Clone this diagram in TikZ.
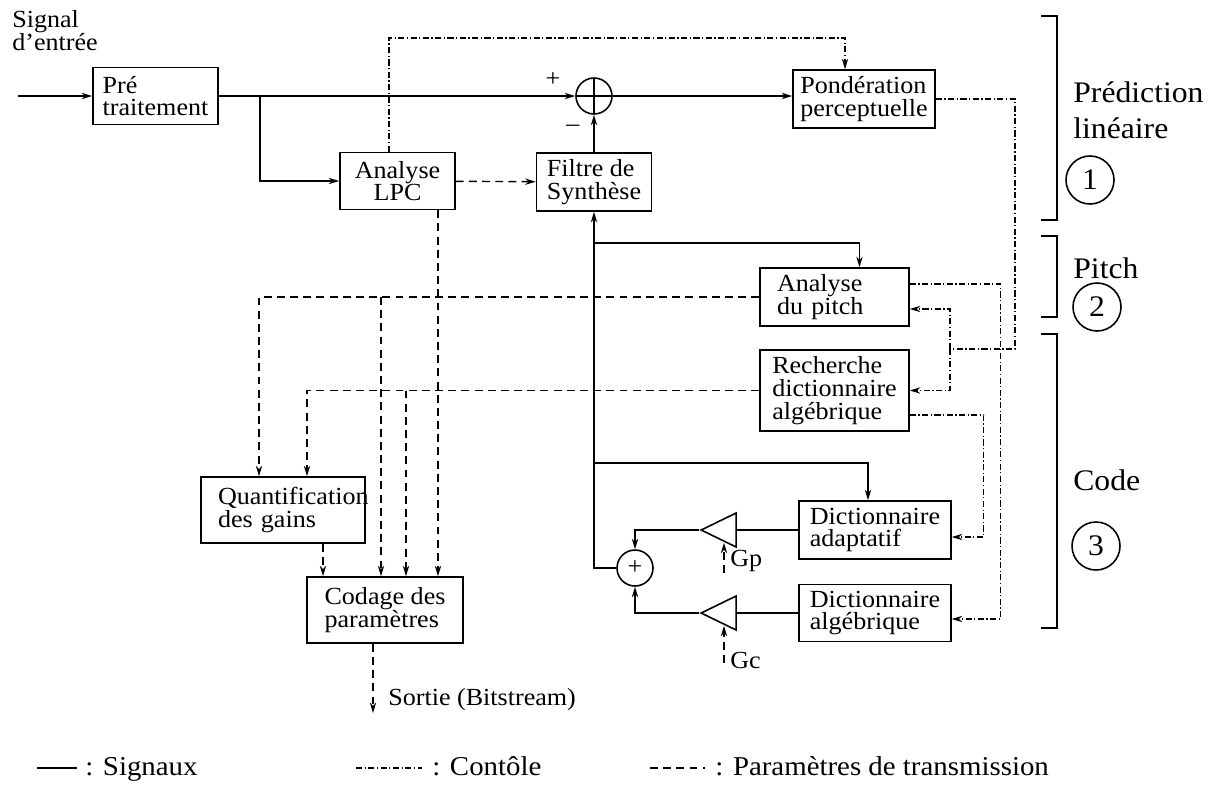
\documentclass[tikz,border=0pt]{standalone}
\usepackage{fontspec}
\setmainfont{Liberation Serif}[FakeStretch=1.06]
\usetikzlibrary{arrows.meta,positioning,shapes.geometric}
\tikzset{blk/.style={draw, line width=0.9pt, inner sep=2pt, align=left, font=\fontsize{14}{13}\selectfont}}
\tikzset{sig/.style={draw, line width=0.9pt}}
\tikzset{ctl/.style={draw, line width=0.6pt, dash pattern=on 3.5pt off 1.4pt on 0.7pt off 1.4pt}}
\tikzset{par/.style={draw, line width=0.8pt, dash pattern=on 4.5pt off 3pt}}
\tikzset{sumc/.style={circle, draw, line width=0.9pt, minimum size=0.72cm, inner sep=0pt, font=\fontsize{14}{13}\selectfont}}
\tikzset{cross/.style={path picture={\draw[line width=0.9pt] (path picture bounding box.north) -- (path picture bounding box.south) (path picture bounding box.west) -- (path picture bounding box.east);}}}
\tikzset{amp/.style={isosceles triangle, shape border rotate=180, isosceles triangle stretches, draw, line width=0.9pt, minimum width=0.68cm, minimum height=0.7cm, inner sep=0pt}}
\tikzset{lbl/.style={inner sep=0pt, font=\fontsize{14}{13}\selectfont}}
\tikzset{leg/.style={inner sep=0pt, anchor=base west, font=\fontsize{15.5}{15}\selectfont}}
\tikzset{big/.style={inner sep=0pt, font=\fontsize{17}{20}\selectfont}}
\tikzset{num/.style={circle, draw, line width=0.9pt, minimum size=0.96cm, inner sep=0pt, font=\fontsize{17}{20}\selectfont}}
\tikzset{brk/.style={draw, line width=1.1pt}}

\begin{document}
\begin{tikzpicture}[x=0.02cm, y=-0.02cm, >={Stealth[length=6pt,width=3.6pt]}]
	\useasboundingbox (0,0) rectangle (1222,789);

	% blocs
	\node[blk, minimum width=2.5cm, minimum height=1.14cm] (pre) at (155.5,96) {Pré\\traitement};
	\node[blk, align=center, minimum width=2.3cm, minimum height=1.14cm] (lpc) at (397.5,181) {Analyse\\LPC};
	\node[sumc, cross] (s1) at (594,96) {};
	\node[blk, minimum width=2.3cm, minimum height=1.16cm] (filtre) at (594,182) {Filtre de\\Synthèse};
	\node[blk, minimum width=2.84cm, minimum height=1.16cm] (pond) at (864,99) {Pondération\\perceptuelle};
	\node[blk, text width=2.3cm, minimum width=2.98cm, minimum height=1.16cm] (pitch) at (834.5,297) {Analyse\\du pitch};
	\node[blk, minimum width=2.98cm, minimum height=1.62cm] (rech) at (834.5,390.5) {Recherche\\dictionnaire\\algébrique};
	\node[blk, minimum width=3.04cm, minimum height=1.16cm] (dada) at (875,530) {Dictionnaire\\adaptatif};
	\node[blk, minimum width=3.04cm, minimum height=1.14cm] (dalg) at (875,613) {Dictionnaire\\algébrique};
	\node[amp] (gp) at (725.5,530) {};
	\node[amp] (gc) at (725.5,613) {};
	\node[sumc] (s2) at (635,568) {+};
	\node[blk, text width=2.6cm, minimum width=3.28cm, minimum height=1.32cm] (quant) at (283,510) {\mbox{Quantification}\\des gains};
	\node[blk, minimum width=3.12cm, minimum height=1.32cm] (codage) at (385,610) {Codage des\\paramètres};

	% points
	\coordinate (in) at (18,96);
	\coordinate (b0) at (260,96);
	\coordinate (top) at (600,38);
	\coordinate (b1) at (594,243);
	\coordinate (b2) at (594,463);
	\coordinate (k1) at (1015,349);
	\coordinate (k2) at (950,349);
	\coordinate (jp) at (381,297);
	\coordinate (jr) at (406,390.5);
	\coordinate (out) at (373,713);
	\coordinate (gpin) at (724,573);
	\coordinate (gcin) at (724,663);

	% signaux
	\draw[sig, ->] (in) -- (pre);
	\draw[sig, ->] (pre) -- (s1);
	\draw[sig, ->] (b0) |- (lpc);
	\draw[sig, ->] (s1) -- (s1 -| pond.west);
	\draw[sig, ->] (filtre) -- (s1);
	\draw[sig, ->] (s2) -| (filtre);
	\draw[sig, ->] (b1) -| ([xshift=0.5cm]pitch.north);
	\draw[sig, ->] (b2) -| ([xshift=-0.14cm]dada.north);
	\draw[sig] (dada.west) -- (gp.east);
	\draw[sig, ->] (gp.apex) -| (s2);
	\draw[sig] (dalg.west) -- (gc.east);
	\draw[sig, ->] (gc.apex) -| (s2);

	% parametres
	\draw[par, ->] (lpc) -- (filtre);
	\draw[par, ->] ([xshift=0.81cm]lpc.south) -- ([xshift=0.81cm]lpc.south |- codage.north);
	\draw[par, ->] (pitch) -| ([xshift=-0.48cm]quant.north);
	\draw[par, ->] (jp) -- (jp |- codage.north);
	\draw[par, ->] (rech) -| ([xshift=0.48cm]quant.north);
	\draw[par, ->] (jr) -- (jr |- codage.north);
	\draw[par, ->] ([xshift=0.8cm]quant.south) -- ([xshift=0.8cm]quant.south |- codage.north);
	\draw[par, ->] (out |- codage.south) -- (out);
	\draw[par, ->] (gpin) -- (gpin |- gp.south);
	\draw[par, ->] (gcin) -- (gcin |- gc.south);

	% controle
	\draw[ctl, ->] ([xshift=-0.17cm]lpc.north) |- (top) -| ([xshift=-0.38cm]pond.north);
	\draw[ctl] (pond) -| (k1) -- (k2);
	\draw[ctl, ->] (k2) |- ([yshift=-0.24cm]pitch.east);
	\draw[ctl, ->] (k2) |- (rech);
	\draw[ctl, ->] ([yshift=0.26cm]pitch.east) -| ([xshift=0.98cm,yshift=-0.12cm]dalg.east) -- ([yshift=-0.12cm]dalg.east);
	\draw[ctl, ->] ([yshift=-0.49cm]rech.east) -| ([xshift=0.64cm,yshift=-0.14cm]dada.east) -- ([yshift=-0.14cm]dada.east);

	% textes
	\node[lbl, anchor=north west, align=left] (entree) at (12,10) {Signal\\d'entrée};
	\node[lbl] (plus) at (553,80) {+};
	\node[lbl] (moins) at (573,128) {–};
	\node[lbl, anchor=west] (gptxt) at (730,561) {Gp};
	\node[lbl, anchor=west] (gctxt) at (730,660) {Gc};
	\node[lbl, anchor=west] (sortie) at (388,700) {Sortie (Bitstream)};

	% phases
	\draw[brk] (1041,16) -- (1057,16) -- (1057,220) -- (1041,220);
	\draw[brk] (1041,236) -- (1057,236) -- (1057,317) -- (1041,317);
	\draw[brk] (1041,334) -- (1057,334) -- (1057,628) -- (1041,628);
	\node[big, anchor=base west] (pl1) at (1073,102) {Prédiction};
	\node[big, anchor=base west] (pl2) at (1073,138) {linéaire};
	\node[num] (n1) at (1090,180) {1};
	\node[big, anchor=base west] (pt) at (1073,278) {Pitch};
	\node[num] (n2) at (1097,307) {2};
	\node[big, anchor=base west] (cd) at (1073,490) {Code};
	\node[num] (n3) at (1096,546) {3};

	% legende
	\coordinate (la1) at (37,768);
	\coordinate (la2) at (77,768);
	\coordinate (lb1) at (356,768);
	\coordinate (lb2) at (422,768);
	\coordinate (lc1) at (650,768);
	\coordinate (lc2) at (705,768);
	\draw[sig] (la1) -- (la2);
	\draw[ctl] (lb1) -- (lb2);
	\draw[par] (lc1) -- (lc2);
	\node[leg] (ta) at (85,775) {: Signaux};
	\node[leg] (tb) at (432,775) {: Contôle};
	\node[leg] (tc) at (715,775) {: Paramètres de transmission};
\end{tikzpicture}
\end{document}
